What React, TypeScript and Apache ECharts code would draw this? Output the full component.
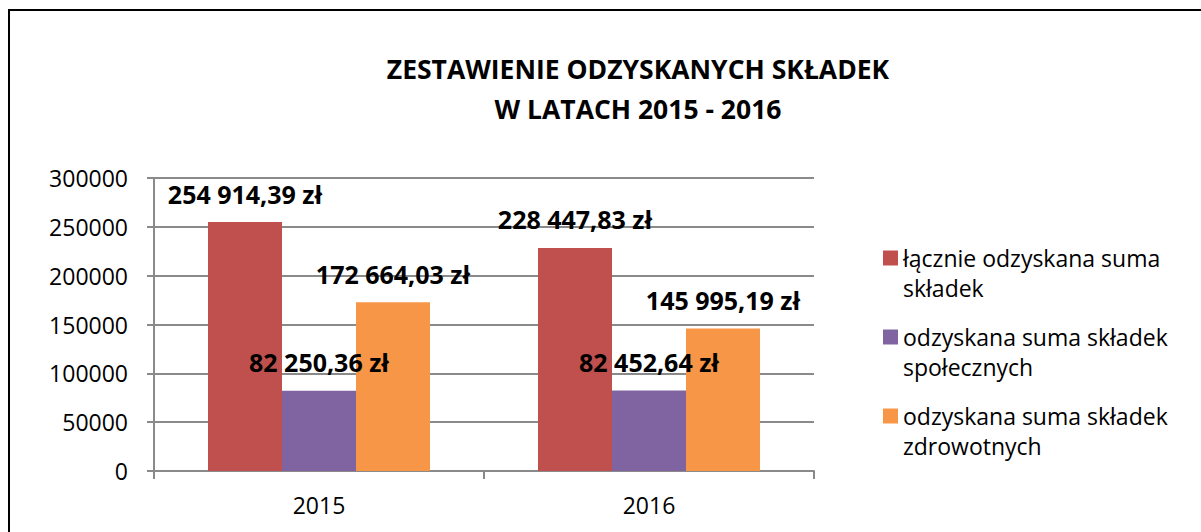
import React, { useEffect, useRef } from "react";
import * as echarts from "echarts";

const categories = ["2015", "2016"];
const seriesNames = [
  "łącznie odzyskana suma\nskładek",
  "odzyskana suma składek\nspołecznych",
  "odzyskana suma składek\nzdrowotnych",
];
const totalValues = [254914.39, 228447.83];
const socialValues = [82250.36, 82452.64];
const healthValues = [172664.03, 145995.19];
const yMin = 0;
const yMax = 300000;
const yStep = 50000;
const colors = ["#C0504D", "#8064A2", "#F79646"];
const titleText = "ZESTAWIENIE ODZYSKANYCH SKŁADEK\nW LATACH 2015 - 2016";

const FONT = "'Open Sans', 'Noto Sans', sans-serif";
const GREY = "#8a8a8a";

function fmtPLN(v: number): string {
  const [i, d] = v.toFixed(2).split(".");
  return i.replace(/\B(?=(\d{3})+(?!\d))/g, " ") + "," + d + " zł";
}

export default function App() {
  const ref = useRef<HTMLDivElement>(null);
  useEffect(() => {
    if (!ref.current) return;
    const chart = echarts.init(ref.current, undefined, { renderer: "svg" });
    const dataSets = [totalValues, socialValues, healthValues];
    chart.setOption({
      animation: false,
      backgroundColor: "#ffffff",
      textStyle: { fontFamily: FONT, color: "#000" },
      title: {
        text: titleText,
        left: 638,
        top: 49,
        padding: 0,
        textAlign: "center",
        textStyle: {
          fontFamily: FONT,
          fontSize: 26.5,
          fontWeight: "bold",
          color: "#000",
          lineHeight: 40,
        },
      },
      graphic: [
        {
          type: "rect",
          shape: { x: 9, y: 10, width: 1400, height: 800 },
          style: { fill: "none", stroke: "#000", lineWidth: 2 },
          silent: true,
        },
      ],
      legend: {
        orient: "vertical",
        left: 883,
        top: 213,
        padding: 0,
        itemWidth: 15,
        itemHeight: 15,
        itemGap: -11,
        icon: "rect",
        formatter: (name: string) => "\n" + name,
        textStyle: {
          fontFamily: FONT,
          fontSize: 23,
          color: "#000",
          lineHeight: 30,
        },
        data: seriesNames,
      },
      grid: { left: 154, right: 387, top: 178, bottom: 61, containLabel: false },
      xAxis: {
        type: "category",
        data: categories,
        axisLine: { lineStyle: { color: GREY, width: 2 } },
        axisTick: { show: true, length: 8, lineStyle: { color: GREY, width: 2 } },
        axisLabel: { fontFamily: FONT, fontSize: 23, color: "#000", margin: 22, lineHeight: 23 },
      },
      yAxis: {
        type: "value",
        min: yMin,
        max: yMax,
        interval: yStep,
        axisLine: { show: true, lineStyle: { color: GREY, width: 2 } },
        axisTick: { show: true, length: 7, lineStyle: { color: GREY, width: 2 } },
        splitLine: { lineStyle: { color: GREY, width: 2 } },
        axisLabel: {
          fontFamily: FONT,
          fontSize: 23,
          color: "#000",
          margin: 26,
          formatter: (v: number) => String(v),
        },
      },
      series: seriesNames.map((name, k) => ({
        name,
        type: "bar",
        data: dataSets[k],
        barWidth: 74,
        barGap: "0%",
        itemStyle: { color: colors[k] },
        label: {
          show: true,
          position: "top",
          distance: 16,
          fontFamily: FONT,
          fontSize: 25,
          fontWeight: "bold",
          color: "#000",
          lineHeight: 25,
          formatter: (p: any) => fmtPLN(p.value),
        },
      })),
    });
    return () => chart.dispose();
  }, []);
  return (
    <div
      ref={ref}
      style={{ position: "absolute", left: 0, top: 0, width: 1201, height: 532 }}
    />
  );
}
